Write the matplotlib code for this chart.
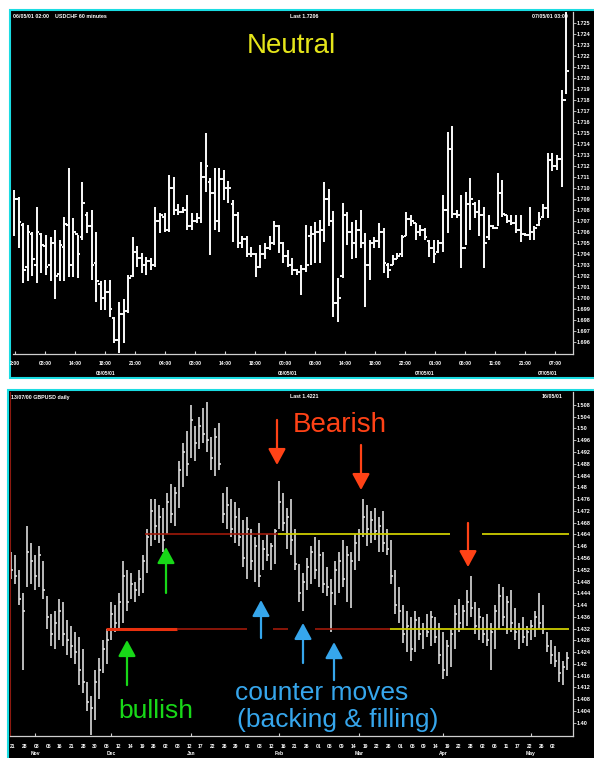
import matplotlib
matplotlib.use("Agg")
import matplotlib.pyplot as plt
from matplotlib.patches import Rectangle
import numpy as np

plt.rcParams['font.family'] = ['Liberation Sans', 'DejaVu Sans']

# ---------------- USDCHF 60 minutes (top) ----------------
top_open = [
    1.7085, 1.7090, 1.7066, 1.7028, 1.7058, 1.7030, 1.7058, 1.7047, 1.7030, 1.7050,
    1.7022, 1.7046, 1.7066, 1.7030, 1.7058, 1.7055, 1.7075, 1.7065, 1.7032, 1.7013,
    1.7000, 1.7005, 1.6982, 1.6962, 1.6985, 1.6988, 1.7020, 1.7042, 1.7036, 1.7030,
    1.7034, 1.7030, 1.7070, 1.7074, 1.7062, 1.7100, 1.7080, 1.7078, 1.7080, 1.7065,
    1.7070, 1.7073, 1.7110, 1.7105, 1.7095, 1.7070, 1.7108, 1.7100, 1.7085, 1.7075,
    1.7050, 1.7054, 1.7040, 1.7040, 1.7028, 1.7040, 1.7045, 1.7050, 1.7065, 1.7050,
    1.7038, 1.7030, 1.7025, 1.7024, 1.7026, 1.7056, 1.7058, 1.7060, 1.7062, 1.7090,
    1.7070, 1.6995, 1.7020, 1.7075, 1.7060, 1.7050, 1.7062, 1.7050, 1.7030, 1.7050,
    1.7052, 1.7060, 1.7030, 1.7030, 1.7035, 1.7040, 1.7056, 1.7072, 1.7068, 1.7060,
    1.7062, 1.7052, 1.7045, 1.7042, 1.7050, 1.7080, 1.7135, 1.7076, 1.7075, 1.7045,
    1.7085, 1.7085, 1.7078, 1.7075, 1.7055, 1.7065, 1.7064, 1.7095, 1.7075, 1.7070,
    1.7068, 1.7062, 1.7058, 1.7057, 1.7060, 1.7066, 1.7074, 1.7082, 1.7125, 1.7120,
    1.7126, 1.7180]
top_high = [
    1.7098, 1.7092, 1.7068, 1.7066, 1.7060, 1.7083, 1.7059, 1.7057, 1.7055, 1.7062,
    1.7053, 1.7074, 1.7118, 1.7073, 1.7057, 1.7105, 1.7078, 1.7080, 1.7060, 1.7015,
    1.7016, 1.7016, 1.6983, 1.6996, 1.6999, 1.7021, 1.7055, 1.7047, 1.7041, 1.7037,
    1.7036, 1.7083, 1.7077, 1.7077, 1.7112, 1.7110, 1.7085, 1.7083, 1.7094, 1.7077,
    1.7077, 1.7124, 1.7150, 1.7109, 1.7118, 1.7118, 1.7116, 1.7106, 1.7089, 1.7078,
    1.7056, 1.7056, 1.7046, 1.7041, 1.7048, 1.7050, 1.7056, 1.7070, 1.7066, 1.7051,
    1.7044, 1.7036, 1.7026, 1.7030, 1.7066, 1.7065, 1.7069, 1.7071, 1.7105, 1.7099,
    1.7079, 1.7018, 1.7086, 1.7078, 1.7069, 1.7071, 1.7080, 1.7059, 1.7053, 1.7055,
    1.7068, 1.7064, 1.7032, 1.7039, 1.7041, 1.7057, 1.7078, 1.7075, 1.7068, 1.7066,
    1.7064, 1.7053, 1.7053, 1.7053, 1.7094, 1.7151, 1.7156, 1.7080, 1.7094, 1.7096,
    1.7109, 1.7087, 1.7089, 1.7083, 1.7075, 1.7066, 1.7114, 1.7107, 1.7075, 1.7075,
    1.7075, 1.7075, 1.7059, 1.7083, 1.7065, 1.7078, 1.7085, 1.7132, 1.7132, 1.7130,
    1.7189, 1.7260]
top_low = [
    1.7056, 1.7045, 1.7014, 1.7015, 1.7020, 1.7014, 1.7023, 1.7021, 1.7015, 1.6999,
    1.7015, 1.7015, 1.7019, 1.7019, 1.7018, 1.7053, 1.7059, 1.7016, 1.6996, 1.6989,
    1.6989, 1.6983, 1.6959, 1.6950, 1.6959, 1.6986, 1.7019, 1.7028, 1.7023, 1.7021,
    1.7025, 1.7028, 1.7059, 1.7060, 1.7060, 1.7075, 1.7075, 1.7077, 1.7062, 1.7062,
    1.7068, 1.7068, 1.7096, 1.7039, 1.7062, 1.7060, 1.7089, 1.7086, 1.7051, 1.7045,
    1.7045, 1.7037, 1.7037, 1.7019, 1.7027, 1.7035, 1.7044, 1.7048, 1.7041, 1.7032,
    1.7028, 1.7021, 1.7021, 1.7003, 1.7024, 1.7030, 1.7032, 1.7032, 1.7051, 1.7065,
    1.6983, 1.6978, 1.7018, 1.7048, 1.7035, 1.7036, 1.7045, 1.6992, 1.7016, 1.7045,
    1.7045, 1.7023, 1.7018, 1.7030, 1.7035, 1.7037, 1.7056, 1.7065, 1.7053, 1.7056,
    1.7053, 1.7037, 1.7032, 1.7041, 1.7042, 1.7059, 1.7073, 1.7073, 1.7027, 1.7048,
    1.7062, 1.7073, 1.7056, 1.7027, 1.7053, 1.7063, 1.7065, 1.7074, 1.7068, 1.7066,
    1.7059, 1.7051, 1.7056, 1.7053, 1.7053, 1.7065, 1.7073, 1.7073, 1.7115, 1.7116,
    1.7101, 1.7185]
top_close = [
    1.7090, 1.7069, 1.7025, 1.7060, 1.7035, 1.7060, 1.7048, 1.7028, 1.7050, 1.7020,
    1.7048, 1.7067, 1.7030, 1.7060, 1.7040, 1.7086, 1.7065, 1.7030, 1.7015, 1.7000,
    1.7005, 1.6990, 1.6962, 1.6985, 1.6988, 1.7018, 1.7042, 1.7036, 1.7030, 1.7034,
    1.7030, 1.7070, 1.7075, 1.7062, 1.7100, 1.7080, 1.7078, 1.7080, 1.7065, 1.7070,
    1.7073, 1.7110, 1.7120, 1.7095, 1.7070, 1.7108, 1.7100, 1.7100, 1.7075, 1.7050,
    1.7054, 1.7040, 1.7040, 1.7028, 1.7040, 1.7045, 1.7050, 1.7065, 1.7050, 1.7038,
    1.7030, 1.7025, 1.7024, 1.7026, 1.7030, 1.7058, 1.7060, 1.7062, 1.7090, 1.7070,
    1.6995, 1.7000, 1.7075, 1.7060, 1.7050, 1.7062, 1.7050, 1.7030, 1.7050, 1.7052,
    1.7060, 1.7032, 1.7025, 1.7035, 1.7038, 1.7055, 1.7072, 1.7070, 1.7060, 1.7062,
    1.7055, 1.7045, 1.7040, 1.7050, 1.7080, 1.7135, 1.7076, 1.7075, 1.7045, 1.7085,
    1.7090, 1.7078, 1.7075, 1.7050, 1.7065, 1.7064, 1.7095, 1.7076, 1.7070, 1.7068,
    1.7062, 1.7058, 1.7057, 1.7060, 1.7064, 1.7072, 1.7082, 1.7125, 1.7120, 1.7126,
    1.7180, 1.7206]
top_ylabels = ["1.725", "1.724", "1.723", "1.722", "1.721", "1.720", "1.719", "1.718",
               "1.717", "1.716", "1.715", "1.714", "1.713", "1.712", "1.711", "1.710",
               "1.709", "1.708", "1.707", "1.706", "1.705", "1.704", "1.703", "1.702",
               "1.701", "1.700", "1.699", "1.698", "1.697", "1.696"]
top_xlabels = ["2:00", "08:00", "14:00", "18:00", "21:00", "04:00", "08:00", "14:00",
               "18:00", "00:00", "06:00", "14:00", "18:00", "22:00", "01:00", "06:00",
               "11:00", "21:00", "07:00"]
top_dates = ["05/05/01", "06/05/01", "07/05/01", "07/05/01"]
top_date_bars = [20, 60, 90, 117]

# ---------------- GBPUSD daily (bottom) ----------------
bot_high = [
    1.458, 1.457, 1.452, 1.444, 1.467, 1.461, 1.457, 1.460, 1.455, 1.443,
    1.437, 1.438, 1.442, 1.441, 1.435, 1.433, 1.431, 1.429, 1.425, 1.414,
    1.409, 1.418, 1.422, 1.428, 1.432, 1.441, 1.440, 1.444, 1.455, 1.452,
    1.451, 1.448, 1.452, 1.457, 1.466, 1.476, 1.476, 1.474, 1.473, 1.478,
    1.481, 1.480, 1.489, 1.495, 1.499, 1.508, 1.501, 1.504, 1.507, 1.509,
    1.497, 1.500, 1.502, 1.478, 1.480, 1.476, 1.475, 1.473, 1.469, 1.470,
    1.466, 1.463, 1.468, 1.462, 1.464, 1.461, 1.466, 1.482, 1.478, 1.473,
    1.476, 1.466, 1.454, 1.451, 1.456, 1.460, 1.463, 1.462, 1.458, 1.453,
    1.449, 1.455, 1.458, 1.462, 1.460, 1.458, 1.464, 1.466, 1.476, 1.474,
    1.472, 1.473, 1.470, 1.472, 1.466, 1.462, 1.452, 1.446, 1.440, 1.438,
    1.436, 1.438, 1.436, 1.434, 1.437, 1.438, 1.436, 1.434, 1.431, 1.428,
    1.432, 1.440, 1.442, 1.440, 1.445, 1.450, 1.441, 1.439, 1.436, 1.437,
    1.434, 1.440, 1.447, 1.446, 1.443, 1.445, 1.439, 1.434, 1.436, 1.433,
    1.435, 1.438, 1.444, 1.440, 1.431, 1.428, 1.426, 1.424, 1.421, 1.424]
bot_low = [
    1.449, 1.447, 1.440, 1.418, 1.446, 1.447, 1.445, 1.446, 1.442, 1.432,
    1.426, 1.425, 1.428, 1.426, 1.423, 1.422, 1.420, 1.413, 1.410, 1.404,
    1.396, 1.401, 1.408, 1.417, 1.420, 1.428, 1.431, 1.432, 1.434, 1.438,
    1.442, 1.441, 1.443, 1.444, 1.451, 1.460, 1.462, 1.461, 1.458, 1.464,
    1.468, 1.467, 1.473, 1.480, 1.484, 1.490, 1.489, 1.493, 1.495, 1.492,
    1.486, 1.484, 1.486, 1.468, 1.466, 1.463, 1.461, 1.460, 1.453, 1.449,
    1.452, 1.448, 1.446, 1.452, 1.455, 1.452, 1.454, 1.466, 1.465, 1.459,
    1.457, 1.452, 1.441, 1.438, 1.445, 1.447, 1.449, 1.446, 1.444, 1.443,
    1.431, 1.440, 1.444, 1.446, 1.441, 1.439, 1.452, 1.455, 1.463, 1.460,
    1.461, 1.462, 1.458, 1.458, 1.457, 1.447, 1.437, 1.434, 1.427, 1.424,
    1.421, 1.424, 1.428, 1.425, 1.429, 1.426, 1.427, 1.420, 1.415, 1.416,
    1.419, 1.425, 1.431, 1.432, 1.433, 1.436, 1.430, 1.428, 1.427, 1.426,
    1.418, 1.425, 1.432, 1.433, 1.430, 1.431, 1.428, 1.425, 1.427, 1.426,
    1.428, 1.429, 1.432, 1.430, 1.424, 1.420, 1.419, 1.414, 1.413, 1.418]
bot_close = [
    1.452, 1.450, 1.442, 1.438, 1.458, 1.455, 1.450, 1.457, 1.445, 1.436,
    1.430, 1.434, 1.438, 1.430, 1.428, 1.426, 1.424, 1.418, 1.414, 1.407,
    1.405, 1.414, 1.418, 1.425, 1.428, 1.437, 1.434, 1.441, 1.450, 1.441,
    1.447, 1.445, 1.449, 1.455, 1.463, 1.472, 1.467, 1.470, 1.462, 1.475,
    1.471, 1.478, 1.486, 1.492, 1.488, 1.503, 1.495, 1.501, 1.498, 1.496,
    1.490, 1.497, 1.488, 1.471, 1.474, 1.466, 1.470, 1.463, 1.456, 1.466,
    1.455, 1.460, 1.450, 1.459, 1.457, 1.460, 1.465, 1.475, 1.468, 1.470,
    1.462, 1.454, 1.444, 1.448, 1.453, 1.458, 1.452, 1.457, 1.447, 1.446,
    1.444, 1.452, 1.455, 1.449, 1.457, 1.455, 1.461, 1.464, 1.470, 1.466,
    1.469, 1.465, 1.467, 1.461, 1.459, 1.450, 1.440, 1.438, 1.430, 1.433,
    1.425, 1.435, 1.430, 1.432, 1.431, 1.436, 1.429, 1.423, 1.418, 1.426,
    1.430, 1.437, 1.434, 1.438, 1.441, 1.439, 1.433, 1.436, 1.430, 1.428,
    1.431, 1.438, 1.443, 1.436, 1.441, 1.434, 1.431, 1.432, 1.429, 1.431,
    1.433, 1.436, 1.434, 1.432, 1.426, 1.423, 1.421, 1.417, 1.419, 1.4221]
bot_ylabels = ["1.508", "1.504", "1.50", "1.496", "1.492", "1.488", "1.484", "1.48",
               "1.476", "1.472", "1.468", "1.464", "1.46", "1.456", "1.452", "1.448",
               "1.444", "1.44", "1.436", "1.432", "1.428", "1.424", "1.42", "1.416",
               "1.412", "1.408", "1.404", "1.40"]
bot_days = ["21", "28", "03", "05", "16", "21", "28", "30", "05", "12", "14", "19",
            "26", "02", "08", "12", "17", "22", "26", "29", "02", "08", "12", "16",
            "21", "26", "01", "05", "09", "14", "19", "22", "26", "01", "05", "09",
            "14", "19", "22", "28", "02", "06", "11", "17", "22", "26", "02"]
bot_months = ["Nov", "Dec", "Jan", "Feb", "Mar", "Apr", "May"]
bot_month_start = [6, 25, 45, 67, 87, 108, 130]
support = 1.432
resistance = 1.464

# ---------------- figure ----------------
W, H = 594, 758
fig = plt.figure(figsize=(W / 100, H / 100), dpi=100, facecolor='white')


def fig_box(x0, y0, x1, y1):
    # pixel box measured from the top-left -> [left, bottom, width, height]
    return [x0 / W, 1 - y1 / H, (x1 - x0) / W, (y1 - y0) / H]


def fig_txt(px, py, s, **kw):
    return fig.text(px / W, 1 - py / H, s, **kw)


for box in [(10, 10, 620, 378), (8, 390, 620, 790)]:
    l, b, w, h = fig_box(*box)
    fig.add_artist(Rectangle((l, b), w, h, transform=fig.transFigure,
                             facecolor='black', edgecolor='#1adce2',
                             linewidth=1.5, zorder=-5))

ax1 = fig.add_axes(fig_box(13, 12, 573, 354))
ax2 = fig.add_axes(fig_box(10, 392, 573, 736))


def ohlc(ax, o, h, l, c, color, lw, tick):
    x = np.arange(len(h))
    ax.vlines(x, l, h, colors=color, linewidth=lw, zorder=2)
    if o is not None:
        ax.hlines(o, x - tick, x, colors=color, linewidth=lw, zorder=2)
    ax.hlines(c, x, x + tick, colors=color, linewidth=lw, zorder=2)


def style(ax):
    ax.set_facecolor('black')
    ax.spines['top'].set_visible(False)
    ax.spines['left'].set_visible(False)
    for s in ['bottom', 'right']:
        ax.spines[s].set_color('#cfcfcf')
        ax.spines[s].set_linewidth(0.9)
    ax.yaxis.tick_right()
    ax.tick_params(axis='y', colors='#d0d0d0', labelcolor='white', labelsize=4,
                   length=2, width=0.6, pad=1, direction='out')
    ax.tick_params(axis='x', colors='#d0d0d0', labelcolor='white', labelsize=3.6,
                   length=2, width=0.8, direction='in', pad=5)


# top panel
style(ax1)
ohlc(ax1, top_open, top_high, top_low, top_close, '#f4f4f4', 1.45, 0.55)
ax1.set_xlim(-0.22, 122.5)
ax1.set_ylim(1.6949, 1.7260)
ax1.set_yticks([float(v) for v in top_ylabels], top_ylabels)
ax1.set_xticks(np.arange(len(top_xlabels)) * 6.575 + 0.2, top_xlabels)
for lbl in ax1.get_xticklabels() + ax1.get_yticklabels():
    lbl.set_fontweight('bold')
for d, xb in zip(top_dates, top_date_bars):
    ax1.text(xb, -0.056, d, transform=ax1.get_xaxis_transform(), color='white',
             fontsize=3.6, fontweight='bold', ha='center', va='center')

# bottom panel
style(ax2)
ax2.spines['left'].set_visible(True)
ax2.spines['left'].set_color('#8c1a10')
ohlc(ax2, None, bot_high, bot_low, bot_close, '#e4e4e4', 1.15, 0.5)
ax2.set_xlim(-0.25, 140.5)
ax2.set_ylim(1.3955, 1.5124)
ax2.set_yticks([float(v) for v in bot_ylabels], bot_ylabels)
ax2.set_xticks(np.linspace(0.5, 135.5, len(bot_days)), bot_days)
ax2.tick_params(axis='x', which='major', length=0, pad=6)
ax2.set_xticks(bot_month_start, minor=True)
ax2.tick_params(axis='x', which='minor', length=2.5, width=0.8, colors='#d0d0d0',
                direction='in')
for lbl in ax2.get_xticklabels() + ax2.get_yticklabels():
    lbl.set_fontweight('bold')
for m, xb in zip(bot_months, bot_month_start):
    ax2.text(xb, -0.052, m, transform=ax2.get_xaxis_transform(), color='white',
             fontsize=3.6, fontweight='bold', ha='center', va='center')

# support / resistance lines (gaps where the arrows cross them)
dark_red, bright_red, yellow = '#a01a0a', '#e8300e', '#cccc00'
for x0, x1, lvl, col, lw in [
        (33.5, 66.75, resistance, dark_red, 1.2),
        (66.75, 109.75, resistance, yellow, 1.3),
        (117.75, 139.4, resistance, yellow, 1.3),
        (23.75, 41.5, support, bright_red, 2.2),
        (41.5, 59.0, support, dark_red, 1.2),
        (65.5, 69.25, support, dark_red, 1.2),
        (76.0, 94.75, support, dark_red, 1.2),
        (94.75, 139.4, support, yellow, 1.3)]:
    ax2.plot([x0, x1], [lvl, lvl], color=col, linewidth=lw, zorder=3,
             solid_capstyle='butt')

# arrows
red, green, blue = '#ff4216', '#18d818', '#36a6ec'
for xb, tail, tip, col in [
        (66.5, 1.5029, 1.4876, red), (87.5, 1.4944, 1.4791, red),
        (114.25, 1.4679, 1.4529, red),
        (29.0, 1.4128, 1.4281, green), (38.75, 1.4441, 1.4597, green),
        (62.5, 1.4288, 1.4417, blue), (73.0, 1.4203, 1.4339, blue),
        (80.75, 1.4145, 1.4274, blue)]:
    ax2.annotate('', xy=(xb, tip), xytext=(xb, tail), zorder=4,
                 arrowprops=dict(arrowstyle='-|>,head_length=0.7,head_width=0.38',
                                 color=col, lw=1.6, shrinkA=0, shrinkB=0,
                                 mutation_scale=14))

# headers
hdr = dict(color='white', fontsize=3.8, fontweight='bold', va='center')
fig_txt(13, 16, '06/05/01 02:00    USDCHF 60 minutes', **hdr)
fig_txt(290, 16, 'Last 1.7206', **hdr)
fig_txt(568, 16, '07/05/01 03:00', ha='right', **hdr)
fig_txt(11, 397, '13/07/00 GBPUSD daily', **hdr)
fig_txt(290, 397, 'Last 1.4221', **hdr)
fig_txt(563, 397, '16/05/01', ha='right', **hdr)

# annotations
fig_txt(247, 53, 'Neutral', color='#e5e51a', fontsize=20, va='baseline')
fig_txt(293, 432, 'Bearish', color=red, fontsize=20, va='baseline')
fig_txt(118, 718, 'bullish', color=green, fontsize=19, va='baseline')
fig_txt(235, 700, 'counter moves', color=blue, fontsize=19, va='baseline')
fig_txt(237, 727, '(backing & filling)', color=blue, fontsize=19, va='baseline')

fig.savefig('out.png', dpi=100, facecolor='white')
